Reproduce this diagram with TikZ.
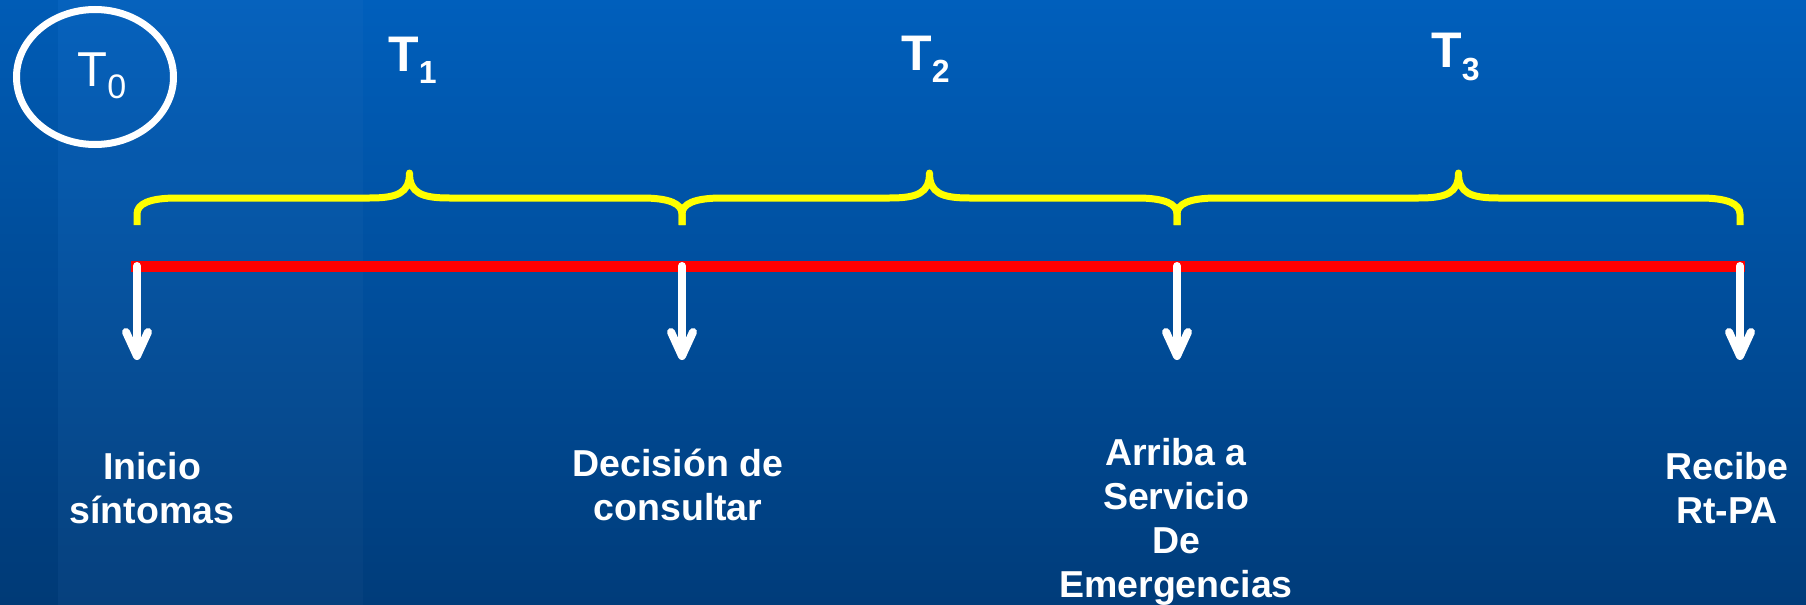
\documentclass[tikz,border=0pt]{standalone}
\usepackage{fontspec}
\setmainfont{Liberation Sans}
\usetikzlibrary{arrows.meta,shapes.geometric}
\definecolor{bgtop}{RGB}{0,95,188}
\definecolor{bgbot}{RGB}{0,60,122}
\definecolor{braceyellow}{RGB}{255,255,0}
\definecolor{linered}{RGB}{255,0,0}
\tikzset{
  tlabel/.style={anchor=base west, inner sep=0pt, text=white, font=\bfseries\fontsize{25}{25}\selectfont},
  evlabel/.style={anchor=base, inner sep=0pt, text=white, align=center, font=\bfseries\fontsize{18.75}{22}\selectfont},
  bracestroke/.style={draw=braceyellow, line width=3.5pt, line cap=butt, line join=round},
  timeline/.style={draw=linered, line width=5.5pt},
  downarrow/.style={draw=white, line width=4pt, line cap=round, -{Straight Barb[length=12pt, width=11pt, round]}},
}
\newcommand{\bracepath}[2]{%
  \draw[bracestroke] (#1,225) -- (#1,214)
    .. controls (#1,204) and (#1+12,198) .. (#1+40,198)
    -- ({(#1+#2)/2-40},198)
    .. controls ({(#1+#2)/2-12},198) and ({(#1+#2)/2},193) .. ({(#1+#2)/2},173)
    .. controls ({(#1+#2)/2},193) and ({(#1+#2)/2+12},198) .. ({(#1+#2)/2+40},198)
    -- (#2-40,198)
    .. controls (#2-12,198) and (#2,204) .. (#2,214) -- (#2,225);}
\begin{document}
\begin{tikzpicture}[x=0.5pt, y=-0.5pt]
  \useasboundingbox (0,0) rectangle (1806,605);
  \shade[top color=bgtop, bottom color=bgbot] (0,0) rectangle (1806,605);
  \fill[white, opacity=0.025] (58,0) rectangle (363,605);
  \fill[black, opacity=0.03] (0,0) rectangle (58,605);

  % T0 ellipse
  \node[ellipse, draw=white, line width=3.5pt, minimum width=78.5pt, minimum height=67.5pt, inner sep=0pt] (t0ring) at (95,77) {};
  \node[anchor=base west, inner sep=0pt, text=white, font=\fontsize{24.5}{24.5}\selectfont] (t0) at (77,86)
    {T\raisebox{-6pt}{\fontsize{17}{17}\selectfont 0}};

  % period labels
  \node[tlabel] (t1) at (388,71) {T\raisebox{-6pt}{\fontsize{16}{16}\selectfont 1}};
  \node[tlabel] (t2) at (901,70) {T\raisebox{-6pt}{\fontsize{16}{16}\selectfont 2}};
  \node[tlabel] (t3) at (1431,68) {T\raisebox{-6pt}{\fontsize{16}{16}\selectfont 3}};

  % braces
  \bracepath{137}{682}
  \bracepath{682}{1177}
  \bracepath{1177}{1740}

  % timeline
  \coordinate (lstart) at (131,266);
  \coordinate (lend) at (1745,266);
  \draw[timeline] (lstart) -- (lend);

  % event points
  \coordinate (p1) at (137,266);
  \coordinate (p2) at (682,266);
  \coordinate (p3) at (1177,266);
  \coordinate (p4) at (1740,266);
  \coordinate (a1) at (137,360);
  \coordinate (a2) at (682,360);
  \coordinate (a3) at (1177,360);
  \coordinate (a4) at (1740,360);
  \draw[downarrow] (p1) -- (a1);
  \draw[downarrow] (p2) -- (a2);
  \draw[downarrow] (p3) -- (a3);
  \draw[downarrow] (p4) -- (a4);

  % event labels (base = baseline of last line)
  \node[evlabel] (e1) at (152,523) {Inicio\\síntomas};
  \node[evlabel] (e2) at (678,520) {Decisión de\\consultar};
  \node[evlabel] (e3) at (1176,597) {Arriba a\\Servicio\\De\\Emergencias};
  \node[evlabel] (e4) at (1727,523) {Recibe\\Rt-PA};
\end{tikzpicture}
\end{document}
